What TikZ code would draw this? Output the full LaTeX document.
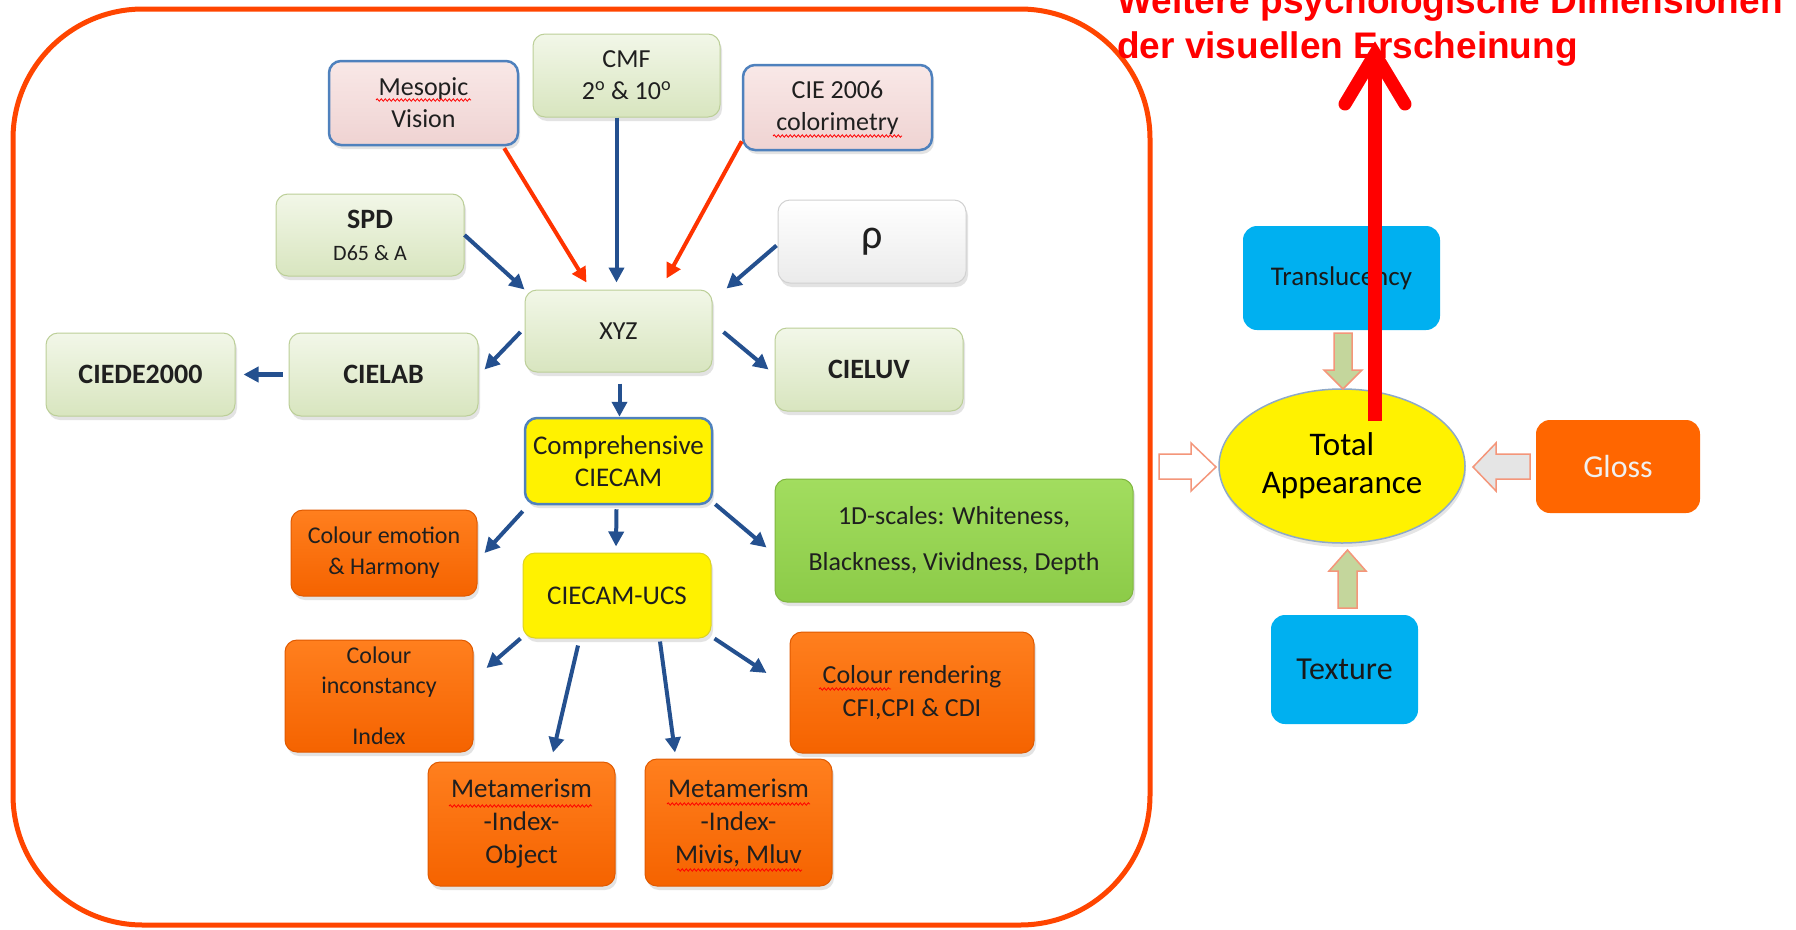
\documentclass[tikz,border=0pt]{standalone}
\usepackage{fontspec}
\setmainfont{Carlito}
\newfontfamily\titlefont{Liberation Sans}
\usetikzlibrary{arrows.meta,shadows,calc,decorations.pathmorphing,shapes.geometric}
\definecolor{frameRed}{HTML}{FF4500}
\definecolor{arrowBlue}{HTML}{24508F}
\definecolor{arrowRed}{HTML}{FF3300}
\definecolor{grTop}{HTML}{F2F7E8}
\definecolor{grBot}{HTML}{D8E5BF}
\definecolor{grEdge}{HTML}{BCCF98}
\definecolor{pkTop}{HTML}{F9E8E7}
\definecolor{pkBot}{HTML}{EFD3D2}
\definecolor{pkEdge}{HTML}{4F81BD}
\definecolor{orTop}{HTML}{FF7F1E}
\definecolor{orBot}{HTML}{F56300}
\definecolor{orEdge}{HTML}{E05A00}
\definecolor{ldTop}{HTML}{A2DD5F}
\definecolor{ldBot}{HTML}{8CCB48}
\definecolor{ldEdge}{HTML}{7FB63F}
\definecolor{cyanBox}{HTML}{00B0F0}
\definecolor{glossOr}{HTML}{FF6600}
\definecolor{blkFill}{HTML}{C4D69C}
\definecolor{blkEdge}{HTML}{F4967A}
\definecolor{ellEdge}{HTML}{8EA9C8}
\tikzset{
  box/.style={rounded corners=12, inner sep=0pt, align=center, text=black!88,
    font=\fontsize{26}{32}\selectfont,
    drop shadow={shadow xshift=2pt,shadow yshift=-4pt,opacity=0.22}},
  greenbox/.style={box, top color=grTop, bottom color=grBot, draw=grEdge, line width=1},
  pinkbox/.style={box, top color=pkTop, bottom color=pkBot, draw=pkEdge, line width=2.5},
  whitebox/.style={box, top color=white, bottom color=black!8, draw=black!18, line width=1},
  yellowbox/.style={box, fill=yellow, draw=yellow!85!black, line width=1},
  orangebox/.style={box, top color=orTop, bottom color=orBot, draw=orEdge, line width=1},
  limebox/.style={box, top color=ldTop, bottom color=ldBot, draw=ldEdge, line width=1},
  flatbox/.style={rounded corners=14, inner sep=0pt, align=center, text=black!90},
  bluearrow/.style={draw=arrowBlue, line width=4, -{Triangle[length=15pt,width=15pt]}},
  redarrow/.style={draw=arrowRed, line width=4, -{Triangle[length=15pt,width=15pt]}},
  blockarrow/.style={draw=blkEdge, line width=1.5, line join=miter},
  squiggle/.style={draw=red, line width=0.8, decorate, decoration={snake, amplitude=1.2pt, segment length=4pt}},
  titletext/.style={anchor=base west, inner sep=0pt, text=red, font=\titlefont\bfseries\fontsize{37}{44}\selectfont}
}
\begin{document}
\begin{tikzpicture}[x=1pt,y=-1pt]
\useasboundingbox (0,0) rectangle (1796,929);
\fill[white] (0,0) rectangle (1796,929);

% frame
\draw[frameRed, line width=5, rounded corners=130] (13,9) rectangle (1150,925);

% left diagram nodes
\node[greenbox, minimum width=187, minimum height=83] (cmf) at (626.5,75.5) {CMF\\2\textsuperscript{o} \& 10\textsuperscript{o}};
\node[pinkbox, minimum width=189, minimum height=84] (meso) at (423.5,103) {Mesopic\\Vision};
\node[pinkbox, minimum width=189, minimum height=85] (cie) at (837.5,107.5) {CIE 2006\\colorimetry};
\node[greenbox, minimum width=188, minimum height=82] (spd) at (370,235) {\textbf{\fontsize{28}{32}\selectfont SPD}\\{\fontsize{22}{28}\selectfont D65 \& A}};
\node[whitebox, minimum width=188, minimum height=83] (rho) at (872,241.5) {\fontsize{42}{42}\selectfont ρ};
\node[greenbox, minimum width=187, minimum height=82] (xyz) at (618.5,331) {XYZ};
\node[greenbox, minimum width=189, minimum height=83, font=\bfseries\fontsize{28}{32}\selectfont] (de) at (140.5,374.5) {CIEDE2000};
\node[greenbox, minimum width=189, minimum height=83, font=\bfseries\fontsize{28}{32}\selectfont] (lab) at (383.5,374.5) {CIELAB};
\node[greenbox, minimum width=188, minimum height=83, font=\bfseries\fontsize{28}{32}\selectfont] (luv) at (869,369.5) {CIELUV};
\node[yellowbox, draw=pkEdge, line width=2.5, minimum width=187, minimum height=86, font=\fontsize{27}{32}\selectfont] (comp) at (618.5,461) {Comprehensive\\CIECAM};
\node[orangebox, minimum width=186, minimum height=86, font=\fontsize{24}{31}\selectfont] (emo) at (384,553) {Colour emotion\\\& Harmony};
\node[limebox, minimum width=358, minimum height=123, font=\fontsize{26}{46}\selectfont] (oned) at (954,540.5) {1D-scales: Whiteness,\\Blackness, Vividness, Depth};
\node[yellowbox, minimum width=188, minimum height=85, font=\fontsize{27}{32}\selectfont] (ucs) at (617,595.5) {CIECAM-UCS};
\node[orangebox, minimum width=188, minimum height=112, font=\fontsize{24}{30}\selectfont] (inc) at (379,696) {Colour\\inconstancy\\[21pt]Index};
\node[orangebox, minimum width=244, minimum height=121, font=\fontsize{26}{33}\selectfont] (rend) at (912,692.5) {Colour rendering\\CFI,CPI \& CDI};
\node[orangebox, minimum width=187, minimum height=124, font=\fontsize{27}{33}\selectfont] (mobj) at (521.5,824) {Metamerism\\-Index-\\Object};
\node[orangebox, minimum width=187, minimum height=127, font=\fontsize{27}{33}\selectfont] (mmiv) at (738.5,822.5) {Metamerism\\-Index-\\Mivis, Mluv};

% spell-check squiggles
\draw[squiggle] (376,100) -- (471,100);
\draw[squiggle] (773,136) -- (902,136);
\draw[squiggle] (449,806) -- (592,806);
\draw[squiggle] (667,804) -- (810,804);
\draw[squiggle] (677,870) -- (802,870);
\draw[squiggle] (819,689) -- (891,689);

% connectors
\draw[bluearrow] (spd.east) -- (xyz.north west);
\draw[redarrow] ($(meso.south east)+(-15,2)$) -- ($(xyz.north)+(-32,-7)$);
\draw[bluearrow] ($(cmf.south)+(-10,0)$) -- ($(xyz.north)+(-2,-7)$);
\draw[redarrow] ($(cie.south west)+(0,-10)$) -- ($(xyz.north)+(48,-11)$);
\draw[bluearrow] ($(rho.west)+(-1,4)$) -- ($(xyz.north east)+(14,-1)$);
\draw[bluearrow] ($(xyz.west)+(-4,1)$) -- ($(lab.east)+(6,-5)$);
\draw[bluearrow, line width=5] ($(lab.west)+(-6,0)$) -- ($(de.east)+(8,0)$);
\draw[bluearrow] ($(xyz.east)+(11,1)$) -- ($(luv.west)+(-6,0)$);
\draw[bluearrow] ($(xyz.south)+(1,11)$) -- ($(comp.north)+(1,0)$);
\draw[bluearrow] ($(comp.south west)+(-1,6)$) -- ($(emo.east)+(7,0)$);
\draw[bluearrow] ($(comp.south)+(-2,4)$) -- ($(ucs.north)+(-1,-6)$);
\draw[bluearrow] ($(comp.south east)+(2,-1)$) -- ($(oned.west)+(-8,7)$);
\draw[bluearrow] ($(ucs.south west)+(-2,0)$) -- ($(inc.east)+(13,-28)$);
\draw[bluearrow] ($(ucs.south)+(-39,7)$) -- ($(mobj.north)+(31.5,-9)$);
\draw[bluearrow] ($(ucs.south)+(43,3)$) -- ($(mmiv.north)+(-63.5,-6)$);
\draw[bluearrow] ($(ucs.south east)+(3,0)$) -- ($(rend.west)+(-23,-19.5)$);

% right side
\node[flatbox, fill=cyanBox, minimum width=197, minimum height=104, font=\fontsize{27}{32}\selectfont] (trans) at (1341.5,278) {Translucency};
\node[ellipse, draw=ellEdge, line width=1.5, fill=yellow, minimum width=246, minimum height=154, inner sep=0pt, align=center, font=\fontsize{33}{38}\selectfont, drop shadow={shadow xshift=1pt,shadow yshift=-4pt,opacity=0.2}] (tot) at (1342,466) {Total\\Appearance};
\node[flatbox, fill=glossOr, text=black!6, minimum width=164, minimum height=93, font=\fontsize{32}{36}\selectfont] (gloss) at (1618,466.5) {Gloss};
\node[flatbox, fill=cyanBox, minimum width=147, minimum height=109, font=\fontsize{32}{36}\selectfont] (tex) at (1344.5,669.5) {Texture};

% block arrows
\draw[blockarrow, fill=blkFill] (1334,333) -- (1352,333) -- (1352,370) -- (1362,370) -- (1343,389) -- (1324,370) -- (1334,370) -- cycle;
\draw[blockarrow, fill=blkFill] (1338,608) -- (1357,608) -- (1357,571) -- (1366,571) -- (1347.5,550) -- (1329,571) -- (1338,571) -- cycle;
\draw[blockarrow, fill=black!10] (1530,454) -- (1530,479) -- (1496,479) -- (1496,491) -- (1473,467) -- (1496,443) -- (1496,454) -- cycle;
\draw[blockarrow, fill=white] (1159,454) -- (1159,479) -- (1191,479) -- (1191,491) -- (1216,467) -- (1191,443) -- (1191,454) -- cycle;

% title
\node[titletext] (t1) at (1117,13) {Weitere psychologische Dimensionen};
\node[titletext] (t2) at (1117,58) {der visuellen Erscheinung};

% red arrow from total appearance to title
\coordinate (rbot) at ($(tot.center)+(33,-45)$);
\coordinate (rtip) at (1375,54);
\draw[red, line width=14] (rbot) -- (1375,62);
\draw[red, line width=13, line cap=round, line join=miter] (1345,104) -- (rtip) -- (1405,104);
\end{tikzpicture}
\end{document}
